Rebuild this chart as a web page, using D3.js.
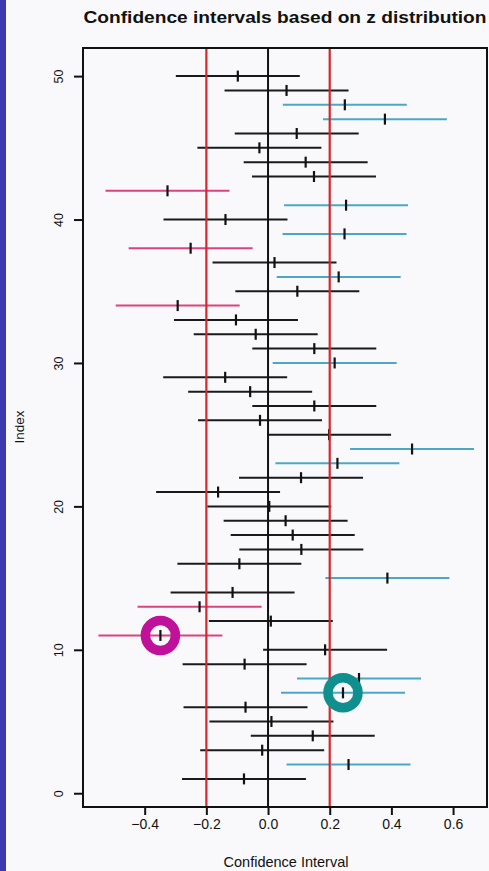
<!DOCTYPE html>
<html>
<head>
<meta charset="utf-8">
<script src="https://cdn.jsdelivr.net/npm/d3@7"></script>
<style>
  html, body { margin: 0; padding: 0; background: #f9f9fb; }
  svg { display: block; }
  text { font-family: "Liberation Sans", Arial, Helvetica, sans-serif; fill: #111; }
</style>
</head>
<body>
<script>
// Sample index 1..50 and the point estimate of each sample
const sampleIndex = d3.range(1, 51);
const estimates = [
  -0.078, 0.261, -0.019, 0.145, 0.011, -0.073, 0.243, 0.295, -0.076, 0.185,
  -0.349, 0.009, -0.222, -0.115, 0.387, -0.093, 0.108, 0.080, 0.057, 0.004,
  -0.162, 0.107, 0.225, 0.467, 0.198, -0.026, 0.150, -0.058, -0.139, 0.216,
  0.150, -0.040, -0.104, -0.293, 0.095, 0.229, 0.021, -0.251, 0.248, -0.138,
  0.253, -0.326, 0.149, 0.122, -0.028, 0.093, 0.379, 0.249, 0.060, -0.098
];
// z-based margin of error (same for every sample)
const marginOfError = 0.201;
// reference lines: true mean and the +/- band
const trueMean = 0.0;
const bandLines = [-0.2, 0.2];
// highlighted samples
const circledMissed = 11;
const circledCovered = 7;

const xTicks = [-0.4, -0.2, 0.0, 0.2, 0.4, 0.6];
const yTicks = [0, 10, 20, 30, 40, 50];

const W = 489, H = 871;
const plot = { left: 83, right: 487, top: 48, bottom: 807 };

const svg = d3.select("body").append("svg").attr("width", W).attr("height", H);

// page edge strip
svg.append("rect").attr("x", 0).attr("y", 0).attr("width", 6).attr("height", H).attr("fill", "#3a3aae");

const x = d3.scaleLinear().domain([-0.6, 0.71]).range([plot.left, plot.right]);
const y = d3.scaleLinear().domain([-0.96, 51.96]).range([plot.bottom, plot.top]);

const rows = sampleIndex.map((idx, i) => {
  const est = estimates[i];
  const lo = est - marginOfError, hi = est + marginOfError;
  let kind = "cover";
  if (lo > trueMean) kind = "above";
  else if (hi < trueMean) kind = "below";
  return { idx, est, lo, hi, kind };
});

const lineColor = { cover: "#1a1a1a", above: "#4aa7c6", below: "#d9447f" };

// interval lines
svg.append("g").selectAll("line").data(rows).join("line")
  .attr("x1", d => x(d.lo)).attr("x2", d => x(d.hi))
  .attr("y1", d => y(d.idx)).attr("y2", d => y(d.idx))
  .attr("stroke", d => lineColor[d.kind]).attr("stroke-width", 2);

// estimate markers
svg.append("g").selectAll("line").data(rows).join("line")
  .attr("x1", d => x(d.est)).attr("x2", d => x(d.est))
  .attr("y1", d => y(d.idx) - 5.5).attr("y2", d => y(d.idx) + 5.5)
  .attr("stroke", "#111").attr("stroke-width", 2.2);

// vertical reference lines
svg.append("g").selectAll("line").data(bandLines).join("line")
  .attr("x1", d => x(d)).attr("x2", d => x(d))
  .attr("y1", plot.top).attr("y2", plot.bottom)
  .attr("stroke", "#d8262a").attr("stroke-width", 2.2);
svg.append("line")
  .attr("x1", x(trueMean)).attr("x2", x(trueMean))
  .attr("y1", plot.top).attr("y2", plot.bottom)
  .attr("stroke", "#111").attr("stroke-width", 2);

// plot frame
svg.append("rect")
  .attr("x", plot.left).attr("y", plot.top)
  .attr("width", plot.right - plot.left).attr("height", plot.bottom - plot.top)
  .attr("fill", "none").attr("stroke", "#111").attr("stroke-width", 2);

// x axis
const xAxis = svg.append("g").attr("transform", `translate(0,${plot.bottom})`)
  .call(d3.axisBottom(x).tickValues(xTicks).tickFormat(d3.format(".1f")).tickSize(8).tickSizeOuter(0));
xAxis.select(".domain").remove();
xAxis.selectAll(".tick line").attr("stroke", "#111").attr("stroke-width", 2);
xAxis.selectAll(".tick text").attr("y", 22).attr("dy", 0)
  .style("font-size", "14px").style("font-family", "'Liberation Sans', Arial, sans-serif").attr("fill", "#111");

// y axis with rotated labels
const yAxis = svg.append("g").attr("transform", `translate(${plot.left},0)`)
  .call(d3.axisLeft(y).tickValues(yTicks).tickFormat(d3.format("d")).tickSize(9).tickSizeOuter(0));
yAxis.select(".domain").remove();
yAxis.selectAll(".tick line").attr("stroke", "#111").attr("stroke-width", 2);
yAxis.selectAll(".tick text")
  .attr("x", 0).attr("y", 0).attr("dy", 0)
  .attr("text-anchor", "middle")
  .attr("transform", "translate(-20,0) rotate(-90)")
  .style("font-size", "12.5px").style("font-family", "'Liberation Sans', Arial, sans-serif").attr("fill", "#111");

// titles
svg.append("text").attr("x", (plot.left + plot.right) / 2).attr("y", 23)
  .attr("text-anchor", "middle").attr("font-weight", "bold").attr("font-size", 16)
  .attr("textLength", 403).attr("lengthAdjust", "spacingAndGlyphs")
  .text("Confidence intervals based on z distribution");
svg.append("text").attr("x", 286).attr("y", 867)
  .attr("text-anchor", "middle").attr("font-size", 14.5)
  .text("Confidence Interval");
svg.append("text").attr("transform", `translate(24,427) rotate(-90)`)
  .attr("text-anchor", "middle").attr("font-size", 13.5)
  .text("Index");

// highlight rings on two estimates
const rings = [
  { row: rows[circledMissed - 1], color: "#c0119b" },
  { row: rows[circledCovered - 1], color: "#0f8f8d" }
];
svg.append("g").selectAll("circle").data(rings).join("circle")
  .attr("cx", d => x(d.row.est)).attr("cy", d => y(d.row.idx))
  .attr("r", 15).attr("fill", "none")
  .attr("stroke", d => d.color).attr("stroke-width", 9.5);
</script>
</body>
</html>
